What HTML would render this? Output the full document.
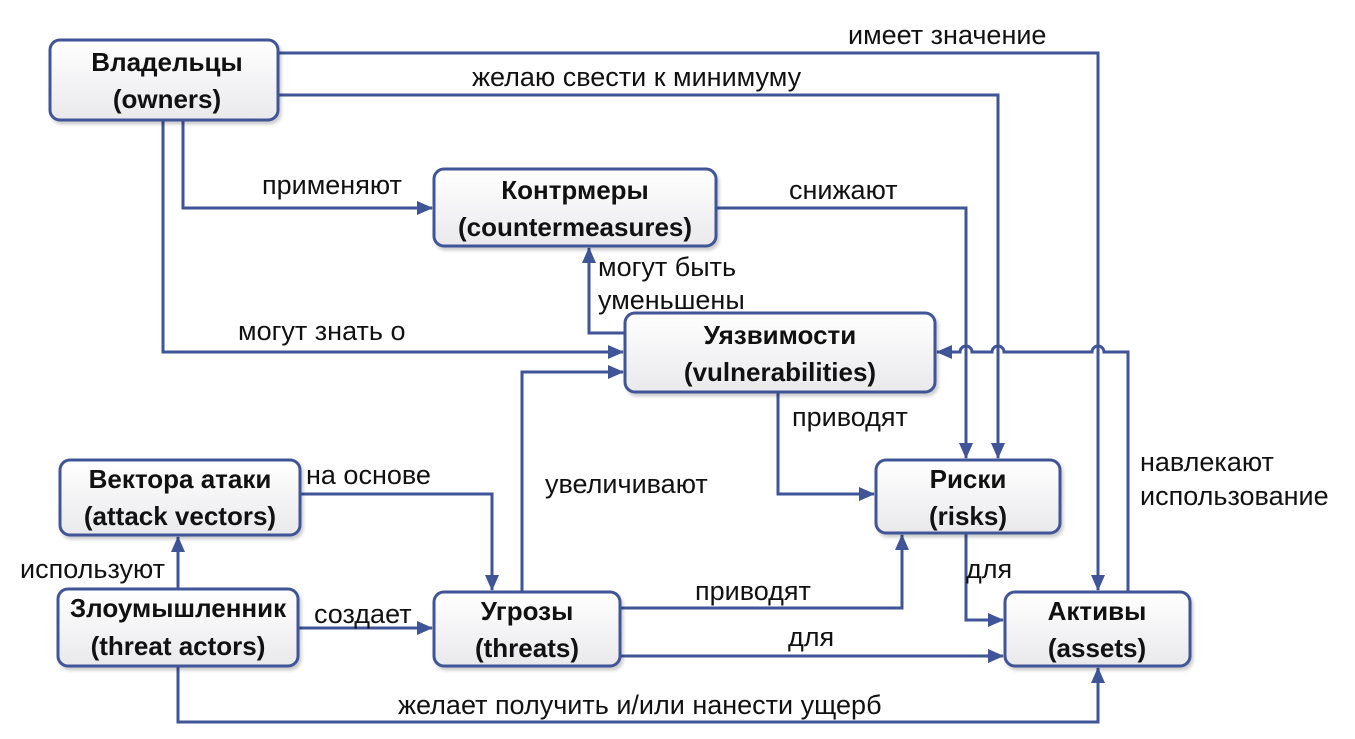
<!DOCTYPE html>
<html><head><meta charset="utf-8"><style>
html,body{margin:0;padding:0;background:#fff;}
svg{display:block;}
text{font-family:"Liberation Sans","DejaVu Sans",sans-serif;fill:#111;}
.b{font-weight:bold;font-size:26px;}
.l{font-size:27px;}
</style></head><body>
<svg width="1355" height="739" viewBox="0 0 1355 739" xmlns="http://www.w3.org/2000/svg">
<defs>
<linearGradient id="g" x1="0" y1="0" x2="0" y2="1"><stop offset="0" stop-color="#ffffff"/><stop offset="1" stop-color="#e9e9ec"/></linearGradient>
<marker id="a" markerWidth="16" markerHeight="14" refX="15" refY="7" orient="auto" markerUnits="userSpaceOnUse" viewBox="0 0 16 14"><path d="M0,0 L16,7 L0,14 z" fill="#3f5597"/></marker>
<filter id="s" x="-5%" y="-5%" width="115%" height="120%"><feDropShadow dx="2" dy="3" stdDeviation="1.5" flood-color="#000" flood-opacity="0.2"/></filter>
</defs>
<g fill="none" stroke="#3f5597" stroke-width="3">
<path d="M278,53 H1098 V590" marker-end="url(#a)"/>
<path d="M278,95 H998 V458" marker-end="url(#a)"/>
<path d="M183,120 V208 H432" marker-end="url(#a)"/>
<path d="M163,120 V352 H623" marker-end="url(#a)"/>
<path d="M716,208 H966 V458" marker-end="url(#a)"/>
<path d="M625,333 H589 V248" marker-end="url(#a)"/>
<path d="M522,592 V372 H623" marker-end="url(#a)"/>
<path d="M778,392 V494 H874" marker-end="url(#a)"/>
<path d="M1128,592 V352 H1104 a6,6 0 0 0 -12,0 H1004 a6,6 0 0 0 -12,0 H972 a6,6 0 0 0 -12,0 H937" marker-end="url(#a)"/>
<path d="M966,533 V620 H1003" marker-end="url(#a)"/>
<path d="M620,608 H902 V535" marker-end="url(#a)"/>
<path d="M620,656 H1003" marker-end="url(#a)"/>
<path d="M300,494 H492 V590" marker-end="url(#a)"/>
<path d="M178,589 V537" marker-end="url(#a)"/>
<path d="M298,628 H432" marker-end="url(#a)"/>
<path d="M178,666 V722 H1098 V668" marker-end="url(#a)"/>
</g>
<g fill="url(#g)" stroke="#3f5597" stroke-width="3" filter="url(#s)">
<rect x="50" y="40" width="228" height="80" rx="10"/>
<rect x="434" y="169" width="282" height="77" rx="10"/>
<rect x="625" y="313" width="310" height="79" rx="10"/>
<rect x="876" y="460" width="184" height="73" rx="10"/>
<rect x="1005" y="592" width="185" height="74" rx="10"/>
<rect x="434" y="592" width="186" height="74" rx="10"/>
<rect x="58" y="589" width="240" height="77" rx="10"/>
<rect x="60" y="460" width="240" height="75" rx="10"/>
</g>
<g class="b" text-anchor="middle">
<text x="167" y="71">Владельцы</text><text x="167" y="108">(owners)</text>
<text x="575" y="199">Контрмеры</text><text x="575" y="236">(countermeasures)</text>
<text x="780" y="344">Уязвимости</text><text x="780" y="381">(vulnerabilities)</text>
<text x="968" y="488">Риски</text><text x="968" y="525">(risks)</text>
<text x="1097" y="620">Активы</text><text x="1097" y="657">(assets)</text>
<text x="527" y="620">Угрозы</text><text x="527" y="657">(threats)</text>
<text x="178" y="617">Злоумышленник</text><text x="178" y="655">(threat actors)</text>
<text x="180" y="488">Вектора атаки</text><text x="180" y="525">(attack vectors)</text>
</g>
<g class="l">
<text x="848" y="44">имеет значение</text>
<text x="472" y="86">желаю свести к минимуму</text>
<text x="262" y="194">применяют</text>
<text x="789" y="199">снижают</text>
<text x="598" y="276">могут быть</text>
<text x="598" y="309">уменьшены</text>
<text x="238" y="340">могут знать о</text>
<text x="792" y="426">приводят</text>
<text x="1140" y="471">навлекают</text>
<text x="1140" y="505">использование</text>
<text x="306" y="484">на основе</text>
<text x="545" y="493">увеличивают</text>
<text x="20" y="578">используют</text>
<text x="966" y="578">для</text>
<text x="695" y="600">приводят</text>
<text x="314" y="623">создает</text>
<text x="788" y="646">для</text>
<text x="398" y="714">желает получить и/или нанести ущерб</text>
</g>
</svg>
</body></html>
